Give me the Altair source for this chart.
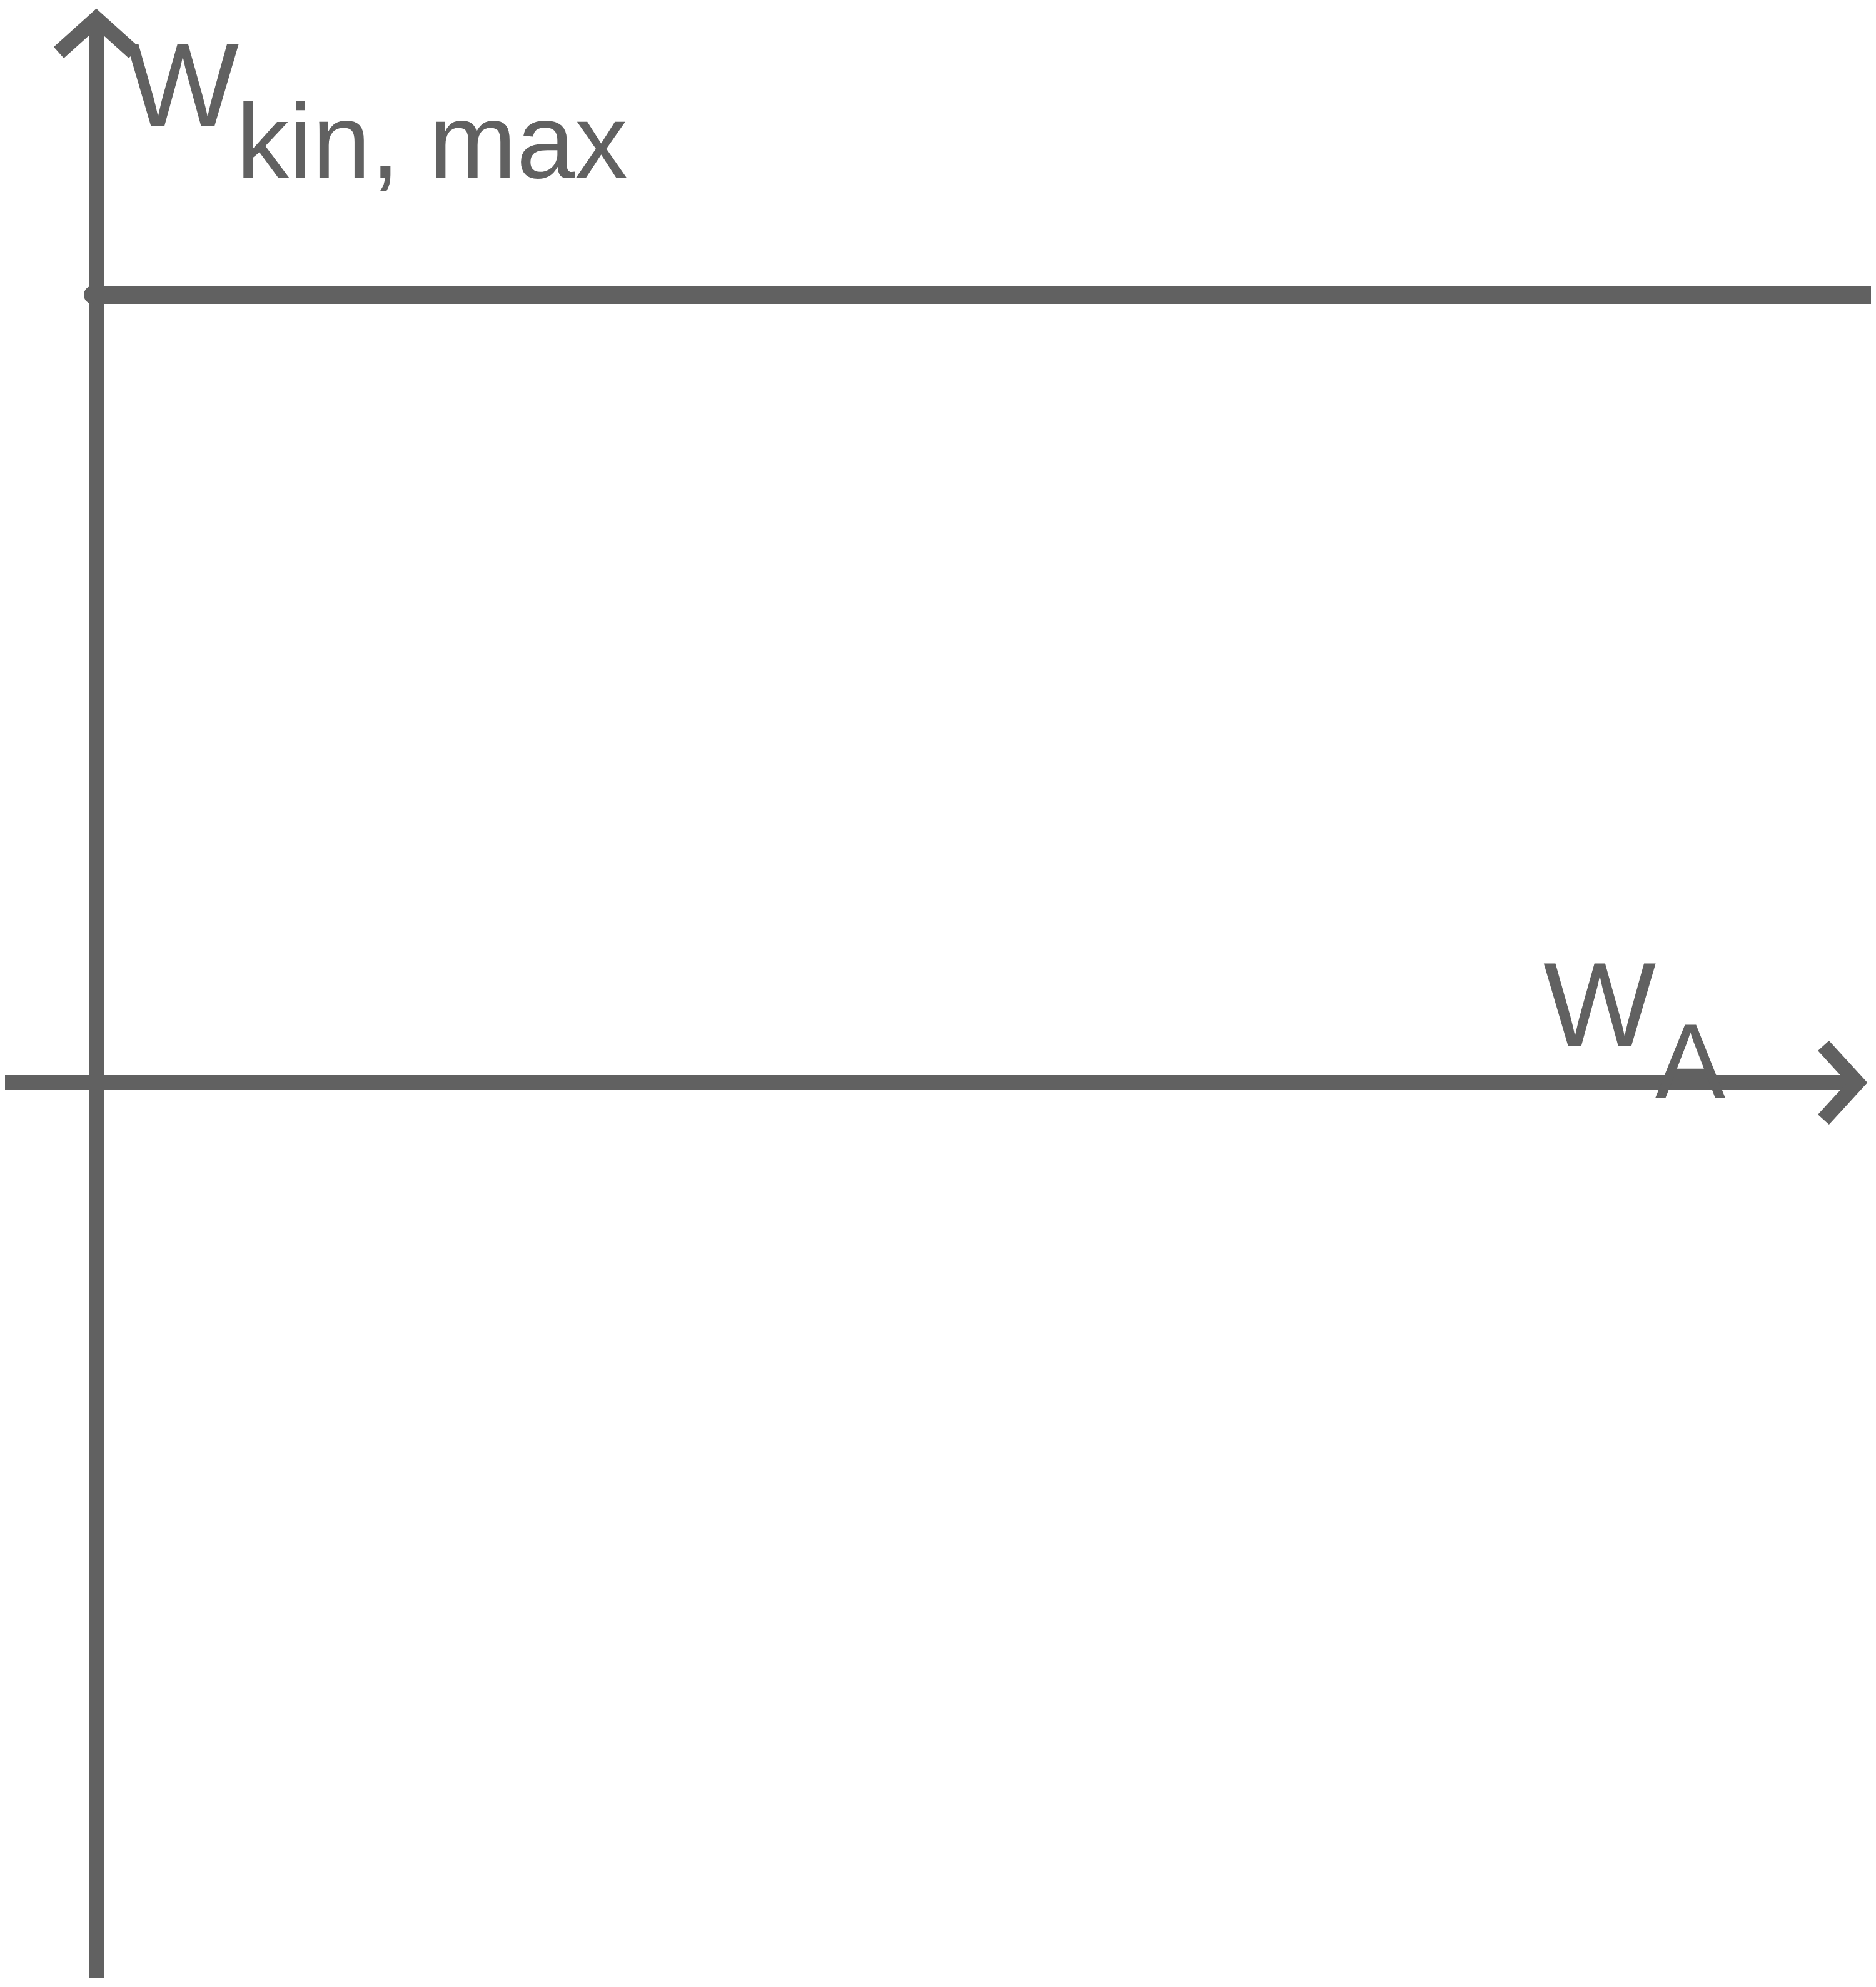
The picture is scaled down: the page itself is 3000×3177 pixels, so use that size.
import altair as alt
import pandas as pd

GREY = "#616161"
FONT = "Liberation Sans"

# Coordinate frame: origin at the axes crossing, 1 unit = 100 px
x_domain = [-1.46, 28.38]
y_domain = [-14.32, 17.23]

# Axis shafts (butt caps)
axis_name = ["W_A axis", "W_kin axis"]
axis_x1 = [-1.7, 0.0]
axis_y1 = [0.0, -14.6]
axis_x2 = [28.16, 0.0]
axis_y2 = [0.0, 17.01]

# Constant level W_kin,max
level_x1 = [-0.055]
level_x2 = [28.6]
level_y = [12.595]

# Arrowheads (chevrons)
arrow_id = ["x", "x", "x", "y", "y", "y"]
arrow_order = [0, 1, 2, 0, 1, 2]
arrow_x = [27.62, 28.16, 27.62, -0.60, 0.0, 0.60]
arrow_y = [0.59, 0.0, -0.59, 16.47, 17.01, 16.47]

# Labels
main_text = ["W", "W"]
main_x = [0.48, 23.14]
main_y = [15.29, 0.59]
sub_text = ["kin, max", "A"]
sub_x = [2.24, 24.93]
sub_y = [14.47, -0.24]

axes_df = pd.DataFrame({"name": axis_name, "x": axis_x1, "y": axis_y1, "x2": axis_x2, "y2": axis_y2})
level_df = pd.DataFrame({"x": level_x1, "x2": level_x2, "y": level_y})
arrow_df = pd.DataFrame({"id": arrow_id, "o": arrow_order, "x": arrow_x, "y": arrow_y})
main_df = pd.DataFrame({"t": main_text, "x": main_x, "y": main_y})
sub_df = pd.DataFrame({"t": sub_text, "x": sub_x, "y": sub_y})

xs = alt.Scale(domain=x_domain, nice=False, zero=False)
ys = alt.Scale(domain=y_domain, nice=False, zero=False)

axes = alt.Chart(axes_df).mark_rule(color=GREY, strokeWidth=24, strokeCap="butt", clip=True).encode(
    x=alt.X("x:Q", scale=xs, axis=None),
    y=alt.Y("y:Q", scale=ys, axis=None),
    x2="x2:Q",
    y2="y2:Q",
)

level = alt.Chart(level_df).mark_rule(color=GREY, strokeWidth=29, strokeCap="round", clip=True).encode(
    x=alt.X("x:Q", scale=xs, axis=None),
    x2="x2:Q",
    y=alt.Y("y:Q", scale=ys, axis=None),
)

arrows = alt.Chart(arrow_df).mark_line(
    color=GREY, strokeWidth=24, strokeCap="butt", strokeJoin="miter", strokeMiterLimit=10, clip=True
).encode(
    x=alt.X("x:Q", scale=xs, axis=None),
    y=alt.Y("y:Q", scale=ys, axis=None),
    detail="id:N",
    order="o:Q",
)

main_lbl = alt.Chart(main_df).mark_text(
    font=FONT, fontSize=191, align="left", baseline="alphabetic", color=GREY
).encode(
    x=alt.X("x:Q", scale=xs, axis=None),
    y=alt.Y("y:Q", scale=ys, axis=None),
    text="t:N",
)

sub_lbl = alt.Chart(sub_df).mark_text(
    font=FONT, fontSize=168, align="left", baseline="alphabetic", color=GREY
).encode(
    x=alt.X("x:Q", scale=xs, axis=None),
    y=alt.Y("y:Q", scale=ys, axis=None),
    text="t:N",
)

chart = alt.layer(axes, level, arrows, main_lbl, sub_lbl).properties(
    width=2984,
    height=3155,
    padding=0,
    autosize=alt.AutoSizeParams(type="none"),
    background="white",
).configure_view(stroke=None)

chart.save("out.html", embed_options={"renderer": "svg", "actions": False})
